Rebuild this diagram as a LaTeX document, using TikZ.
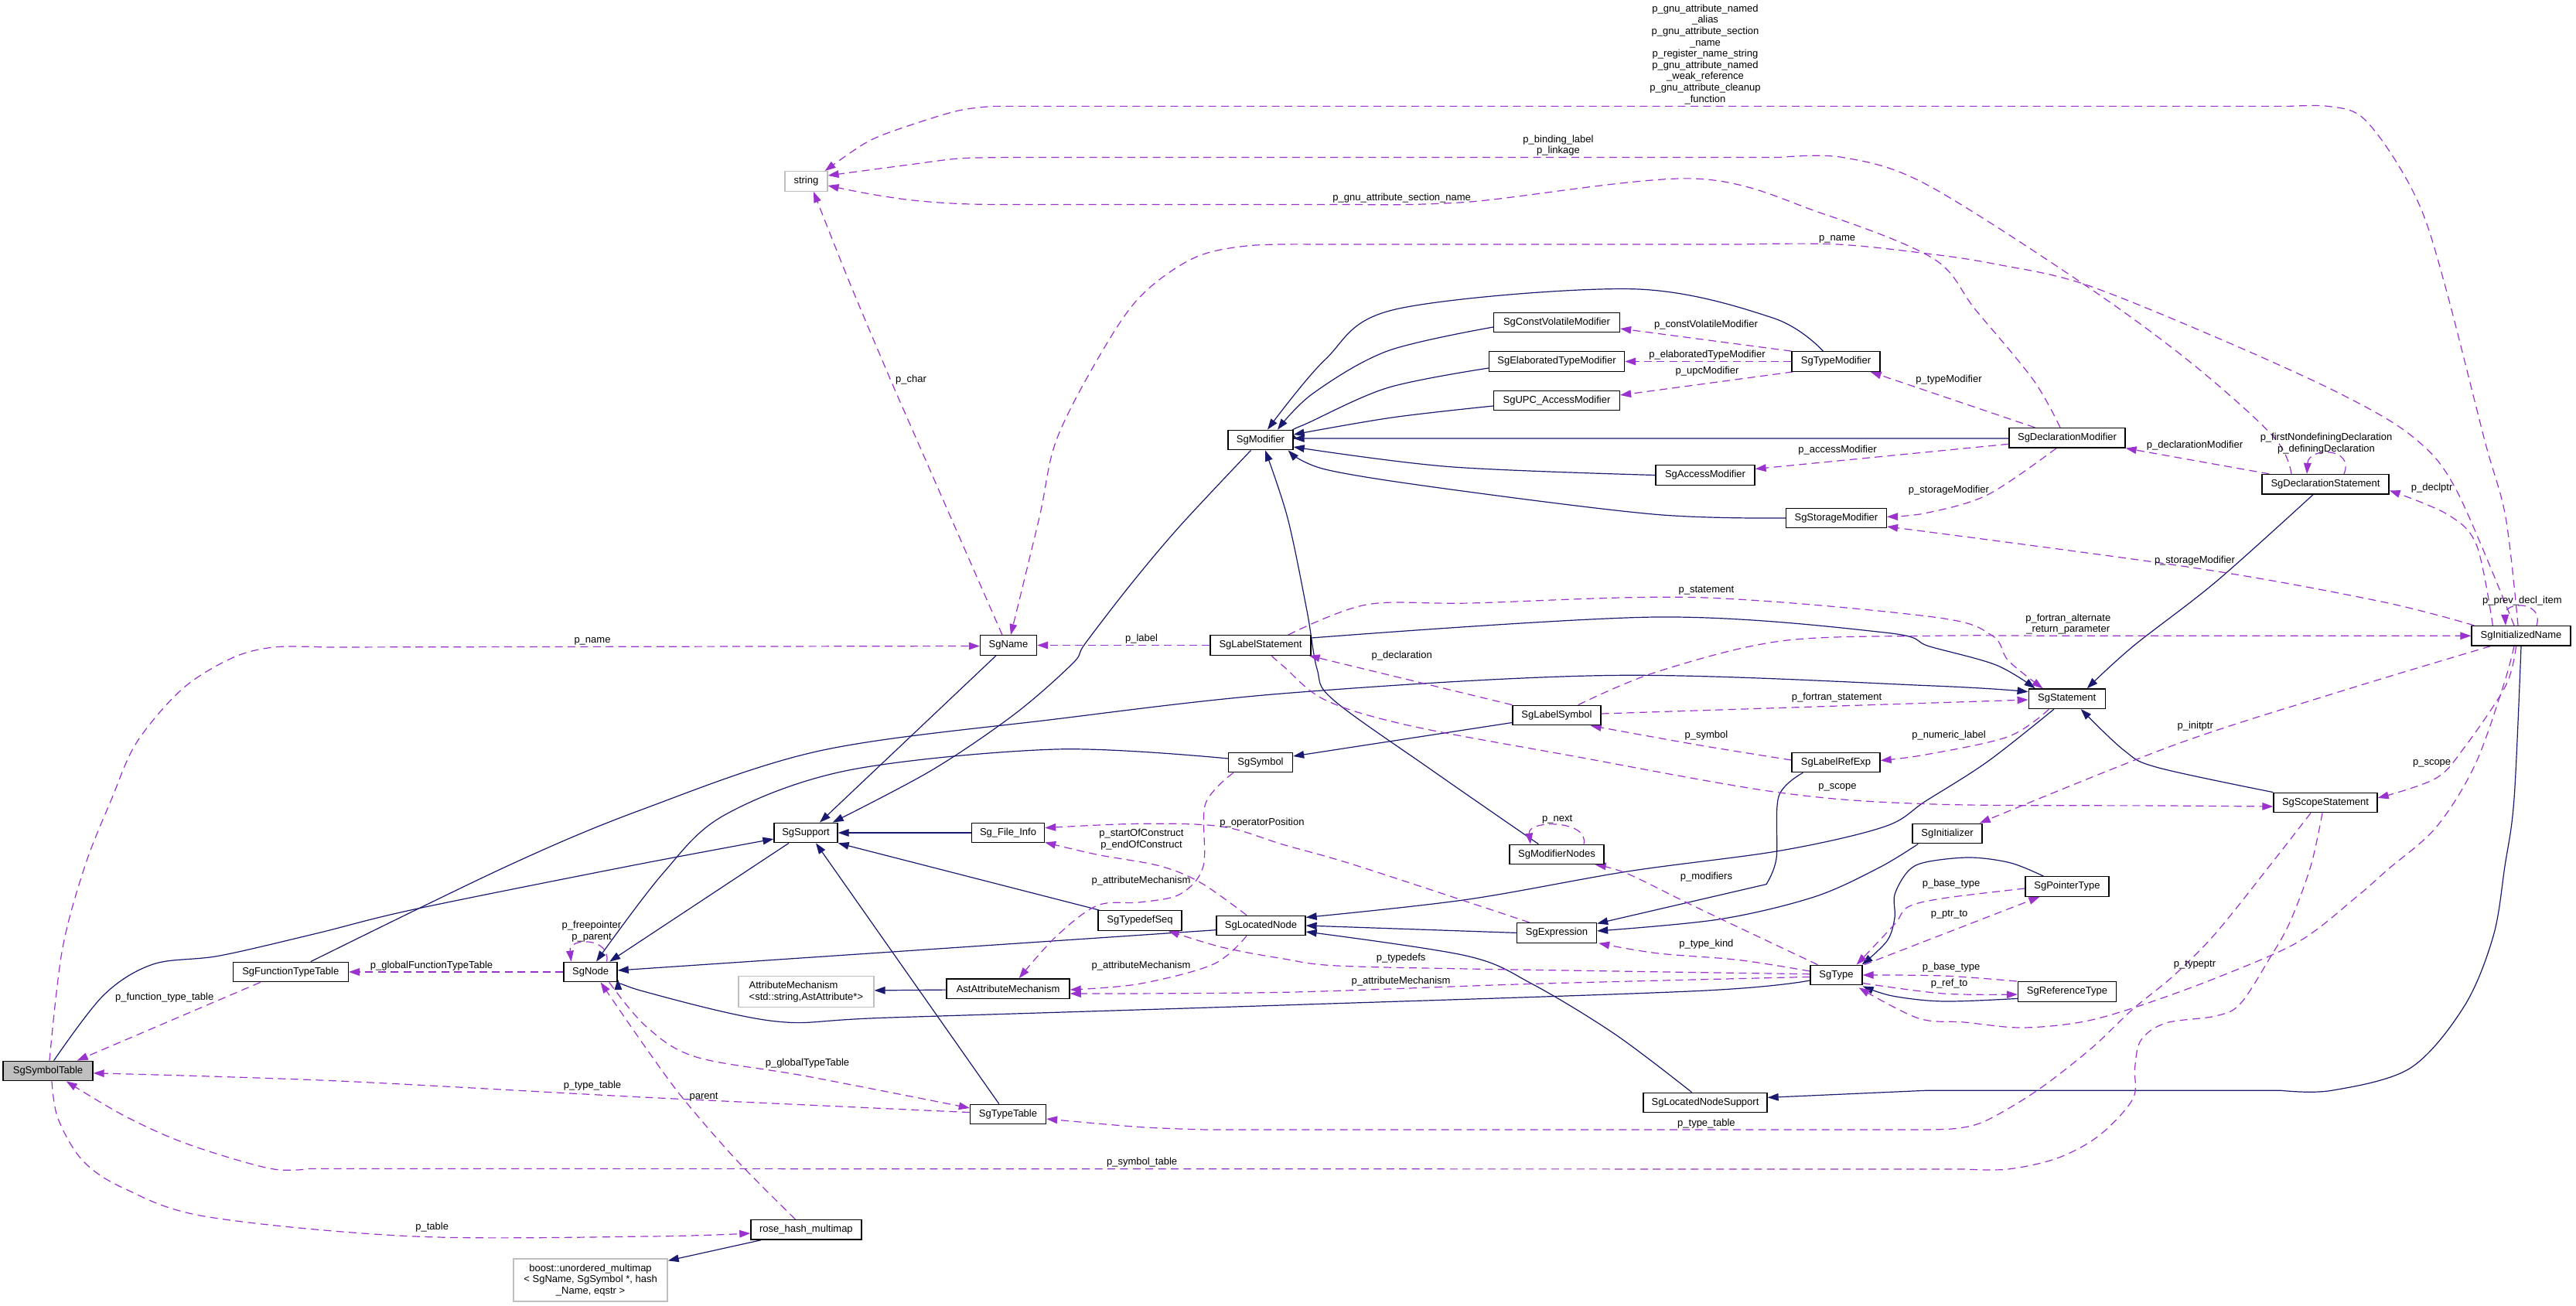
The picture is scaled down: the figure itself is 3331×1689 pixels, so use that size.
\documentclass[tikz,border=0pt]{standalone}
\usepackage{fontspec}
\setmainfont{Liberation Sans}
\usetikzlibrary{arrows.meta}
\definecolor{dblue}{HTML}{191970}
\definecolor{dorchid}{HTML}{9A32CD}
\definecolor{egray}{HTML}{BFBFBF}
\newcommand{\dxfont}{\fontsize{6.5}{7.3}\selectfont}
\pgfdeclarelayer{bg}
\pgfsetlayers{bg,main}
\tikzset{
 cls/.style={draw=black, line width=0.65pt, fill=white, minimum height=12.75pt, inner sep=0pt, font=\dxfont},
 ext/.style={cls, draw=egray},
 lbl/.style={inner sep=0pt, align=center, font=\dxfont},
 inh/.style={draw=dblue, line width=0.6pt, -{Triangle[length=7pt,width=4.8pt]}},
 use/.style={draw=dorchid, line width=0.6pt, dash pattern=on 5pt off 3.2pt, -{Triangle[length=7pt,width=4.8pt]}},
 sm/.style={smooth, tension=0.55}
}
\begin{document}
\begin{tikzpicture}[x=0.5pt,y=-0.5pt]
\useasboundingbox (0,0) rectangle (3331,1689);
\begin{pgfonlayer}{bg}
\fill[white] (0,0) rectangle (3331,1689);
\end{pgfonlayer}
% ---------------- nodes
\node[ext, minimum width=27.5pt] (string) at (1042.4,234.5) {string};
\node[cls, minimum width=42pt] (SgModifier) at (1630,569) {SgModifier};
\node[cls, minimum width=81.5pt] (SgConstVolatileModifier) at (2013,417) {SgConstVolatileModifier};
\node[cls, minimum width=87.5pt] (SgElaboratedTypeModifier) at (2013,467.5) {SgElaboratedTypeModifier};
\node[cls, minimum width=81.5pt] (SgUPCAccessModifier) at (2013,518) {SgUPC\_AccessModifier};
\node[cls, minimum width=57pt] (SgTypeModifier) at (2374,467.5) {SgTypeModifier};
\node[cls, minimum width=75pt] (SgDeclarationModifier) at (2673,566.3) {SgDeclarationModifier};
\node[cls, minimum width=64pt] (SgAccessModifier) at (2205,614.5) {SgAccessModifier};
\node[cls, minimum width=65pt] (SgStorageModifier) at (2374.4,670) {SgStorageModifier};
\node[cls, minimum width=82pt] (SgDeclarationStatement) at (3007,626.3) {SgDeclarationStatement};
\node[cls, minimum width=64pt] (SgInitializedName) at (3260,822.3) {SgInitializedName};
\node[cls, minimum width=36.5pt] (SgName) at (1304,834.5) {SgName};
\node[cls, minimum width=65pt] (SgLabelStatement) at (1630,834.5) {SgLabelStatement};
\node[cls, minimum width=49.5pt] (SgStatement) at (2672.7,903.7) {SgStatement};
\node[cls, minimum width=57pt] (SgLabelSymbol) at (2013,925) {SgLabelSymbol};
\node[cls, minimum width=41.5pt] (SgSymbol) at (1630,986) {SgSymbol};
\node[cls, minimum width=57pt] (SgLabelRefExp) at (2374,986) {SgLabelRefExp};
\node[cls, minimum width=67pt] (SgScopeStatement) at (3007,1038) {SgScopeStatement};
\node[cls, minimum width=41pt] (SgSupport) at (1042,1077) {SgSupport};
\node[cls, minimum width=47pt] (SgFileInfo) at (1303.5,1077) {Sg\_File\_Info};
\node[cls, minimum width=45pt] (SgInitializer) at (2518,1078) {SgInitializer};
\node[cls, minimum width=61pt] (SgModifierNodes) at (2013,1105) {SgModifierNodes};
\node[cls, minimum width=54pt] (SgPointerType) at (2673,1146.5) {SgPointerType};
\node[cls, minimum width=54pt] (SgTypedefSeq) at (1474,1190.4) {SgTypedefSeq};
\node[cls, minimum width=57.5pt] (SgLocatedNode) at (1630.5,1197) {SgLocatedNode};
\node[cls, minimum width=51.5pt] (SgExpression) at (2013,1206.4) {SgExpression};
\node[cls, minimum width=74.5pt] (SgFunctionTypeTable) at (375.8,1257) {SgFunctionTypeTable};
\node[cls, minimum width=34.5pt] (SgNode) at (763.6,1257) {SgNode};
\node[cls, minimum width=33.5pt] (SgType) at (2374.5,1261) {SgType};
\node[ext, minimum width=87.5pt, minimum height=20pt, align=left] (AttributeMechanism) at (1042.4,1282.4) {AttributeMechanism\\<std::string,AstAttribute*>};
\node[cls, minimum width=79.5pt] (AstAttributeMechanism) at (1303.6,1278.6) {AstAttributeMechanism};
\node[cls, minimum width=63.5pt] (SgReferenceType) at (2673,1282.4) {SgReferenceType};
\node[cls, minimum width=58pt, fill=egray] (SgSymbolTable) at (62,1385) {SgSymbolTable};
\node[cls, minimum width=80pt] (SgLocatedNodeSupport) at (2205,1426) {SgLocatedNodeSupport};
\node[cls, minimum width=49pt] (SgTypeTable) at (1303.5,1441) {SgTypeTable};
\node[cls, minimum width=71.5pt] (rosehash) at (1042.4,1590.3) {rose\_hash\_multimap};
\node[ext, minimum width=99.5pt, minimum height=27.5pt, align=center] (boost) at (763.6,1655.5) {boost::unordered\_multimap\\< SgName, SgSymbol *, hash\\\_Name, eqstr >};
% ---------------- labels
\node[lbl] (l1) at (2205,70.2) {p\_gnu\_attribute\_named\\\_alias\\p\_gnu\_attribute\_section\\\_name\\p\_register\_name\_string\\p\_gnu\_attribute\_named\\\_weak\_reference\\p\_gnu\_attribute\_cleanup\\\_function};
\node[lbl] (l2) at (2015,188.2) {p\_binding\_label\\p\_linkage};
\node[lbl] (l3) at (1812.7,256.6) {p\_gnu\_attribute\_section\_name};
\node[lbl] (l4) at (2375.7,309) {p\_name};
\node[lbl] (l5) at (1178,491.6) {p\_char};
\node[lbl] (l6) at (2206,420.6) {p\_constVolatileModifier};
\node[lbl] (l7) at (2207.5,459.5) {p\_elaboratedTypeModifier};
\node[lbl] (l8) at (2207.5,479.8) {p\_upcModifier};
\node[lbl] (l9) at (2520,491.5) {p\_typeModifier};
\node[lbl] (l10) at (2838,576.4) {p\_declarationModifier};
\node[lbl] (l11) at (3008,573.6) {p\_firstNondefiningDeclaration\\p\_definingDeclaration};
\node[lbl] (l12) at (2376,582.5) {p\_accessModifier};
\node[lbl] (l13) at (2520,634.5) {p\_storageModifier};
\node[lbl] (l14) at (3144.6,631.6) {p\_declptr};
\node[lbl] (l15) at (2838,724.7) {p\_storageModifier};
\node[lbl] (l16) at (2206.4,763.6) {p\_statement};
\node[lbl] (l17) at (3261.4,776.7) {p\_prev\_decl\_item};
\node[lbl] (l18) at (2674.3,807.3) {p\_fortran\_alternate\\\_return\_parameter};
\node[lbl] (l19) at (766,829) {p\_name};
\node[lbl] (l20) at (1476,826.5) {p\_label};
\node[lbl] (l21) at (1812.7,848) {p\_declaration};
\node[lbl] (l22) at (2375,902.4) {p\_fortran\_statement};
\node[lbl] (l23) at (2838.7,938.8) {p\_initptr};
\node[lbl] (l24) at (2206.4,950.8) {p\_symbol};
\node[lbl] (l25) at (2520,951) {p\_numeric\_label};
\node[lbl] (l26) at (3144.6,987) {p\_scope};
\node[lbl] (l27) at (2376,1018.8) {p\_scope};
\node[lbl] (l28) at (2013.6,1060) {p\_next};
\node[lbl] (l29) at (1632,1064.5) {p\_operatorPosition};
\node[lbl] (l30) at (1476,1085.6) {p\_startOfConstruct\\p\_endOfConstruct};
\node[lbl] (l31) at (2206.4,1134.5) {p\_modifiers};
\node[lbl] (l32) at (1475.5,1139.2) {p\_attributeMechanism};
\node[lbl] (l33) at (2523,1143.6) {p\_base\_type};
\node[lbl] (l34) at (2520.6,1182.8) {p\_ptr\_to};
\node[lbl] (l35) at (765,1204.4) {p\_freepointer\\p\_parent};
\node[lbl] (l36) at (2206.4,1221) {p\_type\_kind};
\node[lbl] (l37) at (1811.6,1238.7) {p\_typedefs};
\node[lbl] (l38) at (558,1248.8) {p\_globalFunctionTypeTable};
\node[lbl] (l39) at (1475.5,1248.8) {p\_attributeMechanism};
\node[lbl] (l40) at (2838,1247.7) {p\_typeptr};
\node[lbl] (l41) at (2523,1251.4) {p\_base\_type};
\node[lbl] (l42) at (1811.6,1268.8) {p\_attributeMechanism};
\node[lbl] (l43) at (2520.6,1272.4) {p\_ref\_to};
\node[lbl] (l44) at (212.7,1290.6) {p\_function\_type\_table};
\node[lbl] (l45) at (1044,1375) {p\_globalTypeTable};
\node[lbl] (l46) at (766,1403.8) {p\_type\_table};
\node[lbl] (l47) at (910,1418.7) {parent};
\node[lbl] (l48) at (2206.4,1452.8) {p\_type\_table};
\node[lbl] (l49) at (1476.6,1503.6) {p\_symbol\_table};
\node[lbl] (l50) at (558.7,1586.7) {p\_table};
% ---------------- edges
\begin{pgfonlayer}{bg}
% inheritance
\draw[inh] plot[sm] coordinates {([shift={(7.6,0)}]SgSymbolTable.north) (134,1287) (198,1247) (284,1236) (410,1207) (535.7,1176) (814,1120) ([shift={(0,8)}]SgSupport.west)};
\draw[inh] plot[sm] coordinates {([shift={(26,0)}]SgFunctionTypeTable.north) (656,1120) (830,1047) (1060,971) (1365,930) (1670,896) (2088.6,873.4) (2500,887) ([shift={(0,-9)}]SgStatement.west)};
\draw[inh] ([shift={(-16,0)}]SgName.south) -- ([shift={(18,0)}]SgSupport.north);
\draw[inh] plot[sm] coordinates {([shift={(-12.5,0)}]SgModifier.south) (1526,680) (1462,756) (1403,832.6) (1387,858) (1312,923.5) (1205,996) ([shift={(-7,0)}]SgSupport.north east)};
\draw[inh] (SgFileInfo.west) -- (SgSupport.east);
\draw[inh] ([shift={(2,0)}]SgTypedefSeq.north west) -- (SgSupport.south east);
\draw[inh] ([shift={(-11.7,0)}]SgTypeTable.north) -- ([shift={(13,0)}]SgSupport.south);
\draw[inh] ([shift={(-22,0)}]SgSupport.south) -- ([shift={(-10.6,0)}]SgNode.north east);
\draw[inh] plot[sm] coordinates {([shift={(0,-5)}]SgSymbol.west) (1365.7,969) (1097.8,996) (937,1054) (856.8,1130) ([shift={(7.4,0)}]SgNode.north)};
\draw[inh] ([shift={(0,5.7)}]SgLocatedNode.west) -- ([shift={(0,-2)}]SgNode.east);
\draw[inh] plot[sm] coordinates {([shift={(0,7)}]SgType.west) (2195.7,1281.5) (1670,1299.6) (1151,1316) (1001.4,1320.7) (830,1281.5) ([shift={(0,9)}]SgNode.east)};
\draw[inh] (SgExpression.west) -- (SgLocatedNode.east);
\draw[inh] plot[sm] coordinates {([shift={(-16.7,0)}]SgStatement.south) (2570,985) (2490,1036) (2437,1069) (2303,1100) (2104.6,1127) (1895.7,1163.5) ([shift={(0,-10.6)}]SgLocatedNode.east)};
\draw[inh] plot[sm] coordinates {([shift={(-17.4,0)}]SgLocatedNodeSupport.north) (2088.6,1337.7) (1981,1272.4) (1895.7,1236) ([shift={(0,8)}]SgLocatedNode.east)};
\draw[inh] plot[sm] coordinates {(SgInitializedName.south) (3251,1032.6) (3239,1120) (3224,1210.7) (3186.4,1301.4) (3116.7,1381.3) (3015,1410.3) (2950,1410.3)} -- (2490,1410.3) -- ([shift={(0,-6.6)}]SgLocatedNodeSupport.east);
\draw[inh] plot[sm] coordinates {([shift={(8,0)}]SgInitializer.south west) (2430,1122) (2345.7,1160) (2222.5,1189) ([shift={(0,-2.4)}]SgExpression.east)};
\draw[inh] plot[sm] coordinates {([shift={(15,0)}]SgLabelRefExp.south west) (2300,1030) (2297,1110) (2284,1143.6)} -- ([shift={(0,-12)}]SgExpression.east);
\draw[inh] plot[sm] coordinates {([shift={(-23.6,0)}]SgModifierNodes.north) (1850,995) (1724,905) (1703,865) (1690,790) (1665,670) ([shift={(6,0)}]SgModifier.south)};
\draw[inh] ([shift={(0,9.5)}]SgLabelSymbol.west) -- ([shift={(0,-8)}]SgSymbol.east);
\draw[inh] plot[sm] coordinates {([shift={(0,-9.5)}]SgLabelStatement.east) (2142,798) (2437,818) (2495,836) (2581,860) ([shift={(9,0)}]SgStatement.north west)};
\draw[inh] plot[sm] coordinates {([shift={(-16,0)}]SgDeclarationStatement.south) (2865,752.7) (2758,836) ([shift={(26,0)}]SgStatement.north)};
\draw[inh] plot[sm] coordinates {(SgScopeStatement.north west) (2790,992.6) (2747,970.8) ([shift={(18,0)}]SgStatement.south)};
\draw[inh] plot[sm] coordinates {([shift={(-16.5,0)}]SgTypeModifier.north) (2292,411) (2110,373.7) (1804.6,400) (1713.6,465) ([shift={(9,0)}]SgModifier.north)};
\draw[inh] plot[sm] coordinates {([shift={(0,6)}]SgConstVolatileModifier.west) (1794,454) (1697.5,509) ([shift={(22,0)}]SgModifier.north)};
\draw[inh] plot[sm] coordinates {([shift={(0,8.5)}]SgElaboratedTypeModifier.west) (1794,501.6) (1686.8,549) ([shift={(-6,0)}]SgModifier.north east)};
\draw[inh] plot[sm] coordinates {([shift={(0,7)}]SgUPCAccessModifier.west) (1800,540) ([shift={(0,-7)}]SgModifier.east)};
\draw[inh] ([shift={(0,0.7)}]SgDeclarationModifier.west) -- ([shift={(0,-2)}]SgModifier.east);
\draw[inh] plot[sm] coordinates {(SgAccessModifier.west) (1874,603.6) ([shift={(0,9)}]SgModifier.east)};
\draw[inh] plot[sm] coordinates {(SgStorageModifier.west) (2142,665.4) (1874,632.7) (1713.6,607) ([shift={(-7,0)}]SgModifier.south east)};
\draw[inh] plot[sm] coordinates {([shift={(24,0)}]SgPointerType.north west) (2600,1116) (2547,1109) (2490,1115) (2467,1127) (2450,1157) (2450,1187) (2440,1217) ([shift={(-1,0)}]SgType.north east)};
\draw[inh] plot[sm] coordinates {([shift={(0,9)}]SgReferenceType.west) (2513,1295) (2447,1288) ([shift={(0,1)}]SgType.south east)};
\draw[inh] ([shift={(0,1.5)}]AstAttributeMechanism.west) -- ([shift={(0,-1.5)}]AttributeMechanism.east);
\draw[inh] ([shift={(14,0)}]rosehash.south west) -- ([shift={(0,3)}]boost.north east);
% usage
\draw[use] plot[sm] coordinates {([shift={(-4,0)}]SgInitializedName.north) (3240,669) (3213,570) (3165,381.7) (3133,276) (3095,203.6) (3052.5,150) (3010,137.4) (2960,137.4)} -- plot[sm] coordinates {(1285,137.4) (1237,143.6) (1162,167) (1119,185) ([shift={(-4,0)}]string.north east)};
\draw[use] plot[sm] coordinates {([shift={(-44,0)}]SgDeclarationStatement.north) (2940,565) (2833,469) (2693.6,367) (2490,238) (2383,203.6) (2300,203.6)} -- plot[sm] coordinates {(1300,203.6) (1240,205) (1178,212.7) ([shift={(0,-7.5)}]string.east)};
\draw[use] plot[sm] coordinates {([shift={(-9,0)}]SgDeclarationModifier.north) (2629,491) (2554,400) (2500,334.5) (2356,276) (2190,231) (1901,261) (1760,264.6)} -- plot[sm] coordinates {(1300,264.6) (1240,263.5) (1178,258.8) (1120,250) ([shift={(0,5.5)}]string.east)};
\draw[use] plot[sm] coordinates {([shift={(-9,0)}]SgInitializedName.north) (3175.7,632.7) (3120,565) (3025.7,509) (2865,436) (2693.6,367) (2581,341.7) (2500,329) (2376,316) (2250,316)} -- plot[sm] coordinates {(1700,316) (1612,318) (1542,334.5) (1473,385) (1419,465) (1365.7,570) (1344,669) ([shift={(3,0)}]SgName.north)};
\draw[use] plot[sm] coordinates {([shift={(2,0)}]SgSymbolTable.north) (80.4,1229) (109.8,1120) (144.6,1032.6) (176.8,960) (235.7,891) (300,851) (354,837) (420,837)} -- ([shift={(0,1)}]SgName.west);
\draw[use] plot[sm] coordinates {([shift={(-8,0)}]SgName.north) (1186,570) (1151.4,490.8) (1097.8,363.5) ([shift={(9.6,0)}]string.south)};
\draw[use] (SgTypeModifier.north west) -- ([shift={(0,8)}]SgConstVolatileModifier.east);
\draw[use] (SgTypeModifier.west) -- (SgElaboratedTypeModifier.east);
\draw[use] ([shift={(2,0)}]SgTypeModifier.south west) -- ([shift={(0,-7)}]SgUPCAccessModifier.east);
\draw[use] ([shift={(34,0)}]SgDeclarationModifier.north west) -- ([shift={(-13,0)}]SgTypeModifier.south east);
\draw[use] ([shift={(0,8)}]SgDeclarationModifier.west) -- ([shift={(0,-8)}]SgAccessModifier.east);
\draw[use] plot[sm] coordinates {([shift={(-14,0)}]SgDeclarationModifier.south) (2570,640) (2490,663.6) ([shift={(0,-1.7)}]SgStorageModifier.east)};
\draw[use] plot[sm] coordinates {([shift={(4,0)}]SgInitializedName.north west) (3079,778) (2838,734.5) ([shift={(0,11)}]SgStorageModifier.east)};
\draw[use] ([shift={(10,0)}]SgDeclarationStatement.north west) -- (SgDeclarationModifier.south east);
\draw[use] ([shift={(24,0)}]SgDeclarationStatement.north) .. controls (3045,578) and (2985,578) .. ([shift={(-24,0)}]SgDeclarationStatement.north);
\draw[use] plot[sm] coordinates {([shift={(28,0)}]SgInitializedName.north west) (3202.5,705.4) (3165,665.4) ([shift={(0,8)}]SgDeclarationStatement.east)};
\draw[use] ([shift={(20,0)}]SgInitializedName.north) .. controls (3290,777) and (3238,777) .. ([shift={(-20,0)}]SgInitializedName.north);
\draw[use] plot[sm] coordinates {([shift={(-30,0)}]SgLabelSymbol.north east) (2142,869) (2303,829) (2500,822.3) (2700,822.3) (SgInitializedName.west)};
\draw[use] plot[sm] coordinates {([shift={(25,0)}]SgInitializedName.south west) (3025.7,894.4) (2811.4,963.5) ([shift={(-4,0)}]SgInitializer.north east)};
\draw[use] plot[sm] coordinates {([shift={(-6.5,0)}]SgInitializedName.south) (3240,887) (3186.4,967) (3149,1007) ([shift={(0,-6)}]SgScopeStatement.east)};
\draw[use] plot[sm] coordinates {([shift={(-9,0)}]SgInitializedName.south) (3237,887) (3200,990) (3150,1070) (3087,1125) (3047,1160) (2972,1218) (2865,1265) (2760,1303) (2690,1322) (2613,1329) (2540,1322) (2480,1316.7) ([shift={(-5,3)}]SgType.south east)};
\draw[use] plot[sm] coordinates {([shift={(-19,0)}]SgScopeStatement.south) (2934.6,1120) (2865,1207) (2811,1261.5) (2758,1305) (2704,1356) (2634.6,1410) (2570,1448.4) (2533,1459) (2490,1461)} -- plot[sm] coordinates {(1560,1461) (1473,1457.5) ([shift={(0,6)}]SgTypeTable.east)};
\draw[use] plot[sm] coordinates {([shift={(-4,0)}]SgScopeStatement.south) (2988,1120) (2961,1192.6) (2934.6,1239.8) (2897,1298) (2865,1314) (2800.7,1323) (2768.5,1345) (2760.5,1381) (2758,1421) (2715,1468) (2661.4,1497.4) (2597,1512) (2540,1512)} -- plot[sm] coordinates {(400,1511.5) (348,1511) (241,1479) (160.7,1443) ([shift={(23.7,0)}]SgSymbolTable.south)};
\draw[use] plot[sm] coordinates {([shift={(14,0)}]SgLabelStatement.south) (1660,862) (1713.6,905.3) (1820.7,938) (2035,978) (2303,1025.3) (2500,1040) (2800,1042) ([shift={(0,5)}]SgScopeStatement.west)};
\draw[use] plot[sm] coordinates {([shift={(-30,0)}]SgLabelStatement.north east) (1767,782) (1901,780) (2196,772.7) (2500,798) (2575.7,821.8) (2597,854.5) ([shift={(19,0)}]SgStatement.north west)};
\draw[use] (SgLabelStatement.west) -- (SgName.east);
\draw[use] (SgLabelSymbol.north west) -- ([shift={(-3,0)}]SgLabelStatement.south east);
\draw[use] ([shift={(0,-2)}]SgLabelSymbol.east) -- ([shift={(0,1.3)}]SgStatement.west);
\draw[use] plot[sm] coordinates {([shift={(0,-3)}]SgLabelRefExp.west) (2196,963.5) ([shift={(-14,0)}]SgLabelSymbol.south east)};
\draw[use] plot[sm] coordinates {([shift={(27,0)}]SgStatement.south west) (2597,952.6) (2490,976) ([shift={(0,-2.5)}]SgLabelRefExp.east)};
\draw[use] ([shift={(35,0)}]SgModifierNodes.north) .. controls (2055,1060) and (1975,1060) .. ([shift={(-34,0)}]SgModifierNodes.north);
\draw[use] plot[sm] coordinates {([shift={(10,0)}]SgType.north west) (2195.7,1174.4) (2104.6,1130) ([shift={(-12,0)}]SgModifierNodes.south east)};
\draw[use] plot[sm] coordinates {([shift={(0,-5)}]SgType.west) (2249,1241.6) (2142,1232.7) ([shift={(2,0)}]SgExpression.south east)};
\draw[use] plot[sm] coordinates {([shift={(0,-1.3)}]SgType.west) (1928,1253.5) (1729.6,1249) (1660,1240) (1580,1225) ([shift={(-18,0)}]SgTypedefSeq.south east)};
\draw[use] plot[sm] coordinates {([shift={(0,2.4)}]SgType.west) (1981.4,1272.4) (1660,1283.3) ([shift={(0,6.4)}]AstAttributeMechanism.east)};
\draw[use] plot[sm] coordinates {([shift={(-18.5,0)}]SgLocatedNode.south) (1569,1247) (1473,1272.4) ([shift={(0,1.4)}]AstAttributeMechanism.east)};
\draw[use] plot[sm] coordinates {([shift={(7,0)}]SgSymbol.south west) (1558.6,1040) (1556,1120) (1526,1156.3) (1473,1167) (1419,1171) (1365.7,1211) ([shift={(14,0)}]AstAttributeMechanism.north)};
\draw[use] plot[sm] coordinates {([shift={(-18.5,0)}]SgLocatedNode.north) (1553,1141.8) (1500,1120) (1419,1105.3) ([shift={(0,-1)}]SgFileInfo.south east)};
\draw[use] plot[sm] coordinates {([shift={(17,0)}]SgExpression.north west) (1756,1120) (1660,1092.5) (1580,1069) (1473,1065.3) ([shift={(0,-6.3)}]SgFileInfo.east)};
\draw[use] plot[sm] coordinates {([shift={(0,2.5)}]SgPointerType.west) (2513,1161.7) (2467,1173) (2450,1195) ([shift={(-8,0)}]SgType.north east)};
\draw[use] ([shift={(2,0)}]SgType.north east) -- ([shift={(19,0)}]SgPointerType.south west);
\draw[use] plot[sm] coordinates {([shift={(-1,0)}]SgReferenceType.north west) (2513,1262) (SgType.east)};
\draw[use] plot[sm] coordinates {([shift={(0,10.5)}]SgType.east) (2513,1285) ([shift={(0,3.6)}]SgReferenceType.west)};
\draw[use] (SgNode.west) -- (SgFunctionTypeTable.east);
\draw[use] ([shift={(21,0)}]SgNode.north) .. controls (790,1212) and (735,1212) .. ([shift={(-25,0)}]SgNode.north);
\draw[use] ([shift={(36,0)}]SgFunctionTypeTable.south west) -- ([shift={(-21,0)}]SgSymbolTable.north east);
\draw[use] plot[sm] coordinates {([shift={(0,-2.4)}]SgTypeTable.west) (840,1419.4) (428.5,1397.6) ([shift={(0,2.8)}]SgSymbolTable.east)};
\draw[use] plot[sm] coordinates {([shift={(-11,0)}]SgNode.south east) (835,1327) (899.6,1366.8) (1044,1392) ([shift={(0,-8)}]SgTypeTable.west)};
\draw[use] plot[sm] coordinates {([shift={(-14,0)}]rosehash.north) (953,1501) (883.6,1421) (835,1355) ([shift={(13,0)}]SgNode.south)};
\draw[use] plot[sm] coordinates {([shift={(5,0)}]SgSymbolTable.south) (75,1446.6) (107,1501) (160.7,1537) (267.8,1573.6) (535.7,1599) (840,1599) ([shift={(0,4.7)}]rosehash.west)};
\end{pgfonlayer}
\end{tikzpicture}
\end{document}
